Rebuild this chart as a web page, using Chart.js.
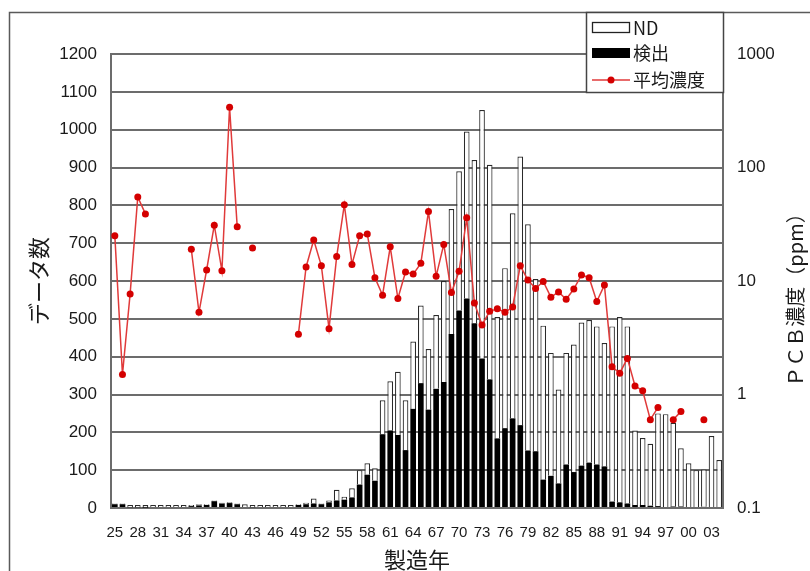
<!DOCTYPE html>
<html><head><meta charset="utf-8">
<script src="https://cdn.jsdelivr.net/npm/chart.js@4/dist/chart.umd.min.js"></script>
<style>html,body{margin:0;padding:0;background:#fff;}#wrap{width:810px;height:571px;position:relative;}</style>
</head><body><div id="wrap"><canvas id="c" width="810" height="571"></canvas></div>
<script>
// Categories: production year (1925-2004), two-digit labels
const years = ['25','26','27','28','29','30','31','32','33','34','35','36','37','38','39','40','41','42','43','44','45','46','47','48','49','50','51','52','53','54','55','56','57','58','59','60','61','62','63','64','65','66','67','68','69','70','71','72','73','74','75','76','77','78','79','80','81','82','83','84','85','86','87','88','89','90','91','92','93','94','95','96','97','98','99','00','01','02','03','04'];

// 検出 (detected) counts
const detected = [10,10,2,2,1,0,0,0,0,0, 5,7,8,18,12,13,10,0,2,0, 0,0,0,0,8,10,12,10,15,20, 22,28,62,88,72,195,205,193,153,262, 330,260,315,333,460,522,554,488,395,340, 184,211,237,219,152,150,75,85,65,115, 95,112,120,115,110,17,15,12,8,8, 6,5,0,4,4,0,0,3,0,0];

// ND (not detected) counts, stacked on top of detected
const notDetected = [2,2,6,6,7,8,8,8,8,8, 3,3,2,2,2,2,2,10,6,8, 8,8,8,8,2,4,13,2,5,28, 8,24,38,30,33,90,130,167,132,178, 205,160,195,267,330,368,441,432,657,567, 321,423,542,710,598,455,407,325,248,295, 337,378,377,365,326,463,490,468,197,177, 164,245,248,221,154,118,100,99,190,127];

// 平均濃度 (mean PCB concentration, ppm), null = no value
const meanConc = [25,1.5,7.7,55,39,null,null,null,null,null, 19,5.3,12.5,31,12.3,340,30,null,19.5,null, null,null,null,null,3.4,13.3,23,13.6,3.8,16.4, 47,14,25,26,10.7,7.5,20,7,12,11.5, 14.3,41,11,21,7.9,12.2,36,6.4,4.1,5.4, 5.7,5.3,5.9,13.6,10.2,8.6,9.9,7.2,8,6.9, 8.5,11.3,10.7,6.6,9.2,1.76,1.54,2.08,1.19,1.08, 0.6,0.77,null,0.6,0.71,null,null,0.6,null,null];

const leftTickStep = 100;
const leftMax = 1200;
const rightTicks = [0.1, 1, 10, 100, 1000];
const rightTickLabels = ['0.1','1','10','100','1000'];
const xLabelEvery = 3;

const seriesLabels = { nd: 'ND', det: '検出', mean: '平均濃度' };
const axisTitles = { x: '製造年', y: 'データ数', y1: 'ＰＣＢ濃度（ppm）' };

const JP = '"Noto Sans CJK JP", "Noto Sans", sans-serif';
const NUM = '"Liberation Sans", Arial, sans-serif';
const GRID = '#6c6c6c';
const TXT = '#1a1a1a';

const decorations = {
  id: 'decorations',
  beforeDraw(chart) {
    const ctx = chart.ctx;
    ctx.save();
    ctx.fillStyle = '#fff';
    ctx.fillRect(0, 0, chart.width, chart.height);
    ctx.restore();
  },
  afterDraw(chart) {
    const ctx = chart.ctx;
    const ca = chart.chartArea;
    ctx.save();
    // outer frame
    ctx.strokeStyle = '#5a5a5a';
    ctx.lineWidth = 1.5;
    ctx.strokeRect(9.5, 12.5, 900, 700);
    // legend box
    const lx = 586, ly = 12, lw = ca.right - 586, lh = 80;
    ctx.fillStyle = '#fff';
    ctx.fillRect(lx, ly, lw, lh);
    ctx.strokeStyle = '#444';
    ctx.lineWidth = 1.5;
    ctx.strokeRect(lx + 0.5, ly + 0.5, lw, lh);
    const ds = chart.data.datasets;
    ctx.font = '18px ' + JP;
    ctx.textBaseline = 'middle';
    ctx.textAlign = 'left';
    // ND
    ctx.fillStyle = '#fff';
    ctx.fillRect(592, 22, 38, 10);
    ctx.strokeStyle = '#222';
    ctx.lineWidth = 1.3;
    ctx.strokeRect(592.5, 22.5, 37, 10);
    ctx.fillStyle = TXT;
    ctx.fillText(ds[1].label, 633, 28);
    // detected
    ctx.fillStyle = '#000';
    ctx.fillRect(592, 48, 38, 10);
    ctx.fillStyle = TXT;
    ctx.fillText(ds[0].label, 633, 53);
    // mean line
    ctx.strokeStyle = '#e03a3a';
    ctx.lineWidth = 1.5;
    ctx.beginPath(); ctx.moveTo(592, 80); ctx.lineTo(630, 80); ctx.stroke();
    ctx.fillStyle = '#d40000';
    ctx.beginPath(); ctx.arc(611, 80, 3.5, 0, Math.PI * 2); ctx.fill();
    ctx.fillStyle = TXT;
    ctx.fillText(ds[2].label, 633, 80);
    // right axis title (reads bottom to top)
    ctx.translate(795, 295);
    ctx.rotate(-Math.PI / 2);
    ctx.font = '20px ' + JP;
    ctx.textAlign = 'center';
    ctx.fillStyle = TXT;
    ctx.fillText(axisTitles.y1, 0, 0);
    ctx.restore();
  }
};

new Chart(document.getElementById('c'), {
  data: {
    labels: years,
    datasets: [
      { type: 'bar', label: seriesLabels.det, data: detected, yAxisID: 'y', order: 1,
        backgroundColor: '#000', borderWidth: 0, barPercentage: 0.74, categoryPercentage: 1 },
      { type: 'bar', label: seriesLabels.nd, data: notDetected, yAxisID: 'y', order: 2,
        backgroundColor: '#fff', borderColor: '#2a2a2a', borderWidth: 1.2, barPercentage: 0.74, categoryPercentage: 1 },
      { type: 'line', label: seriesLabels.mean, data: meanConc, yAxisID: 'y1', order: 0,
        borderColor: '#e03a3a', borderWidth: 1.5, backgroundColor: '#d40000',
        pointBackgroundColor: '#d40000', pointBorderColor: '#d40000', pointRadius: 3.5, pointBorderWidth: 0,
        spanGaps: false, tension: 0 }
    ]
  },
  options: {
    responsive: false, animation: false, devicePixelRatio: 1,
    layout: { padding: { top: 54, left: 0, right: 0, bottom: 0 } },
    plugins: { legend: { display: false }, tooltip: { enabled: false } },
    scales: {
      x: {
        stacked: true, offset: true,
        grid: { display: false, drawTicks: false },
        border: { display: true, color: GRID, width: 2 },
        ticks: { autoSkip: false, maxRotation: 0, minRotation: 0, padding: 16, color: TXT,
          font: { family: NUM, size: 15 },
          callback: (v, i) => (i % xLabelEvery === 0 ? years[i] : '') },
        title: { display: true, text: axisTitles.x, color: TXT, font: { family: JP, size: 22, lineHeight: 1 }, padding: 0 },
        afterFit: s => { s.height = 63; }
      },
      y: {
        stacked: true, position: 'left', min: 0, max: leftMax,
        grid: { color: GRID, lineWidth: 2, drawTicks: false },
        border: { display: true, color: GRID, width: 2 },
        ticks: { stepSize: leftTickStep, padding: 14, color: TXT, font: { family: NUM, size: 17 },
          callback: v => String(v) },
        title: { display: true, text: axisTitles.y, color: TXT, font: { family: JP, size: 22, lineHeight: 1 }, padding: { top: 28, bottom: 0 } },
        afterFit: s => { s.width = 111; }
      },
      y1: {
        type: 'logarithmic', position: 'right', min: 0.1, max: 1000,
        grid: { drawOnChartArea: false, drawTicks: false },
        border: { display: true, color: GRID, width: 2 },
        afterBuildTicks: s => { s.ticks = rightTicks.map(v => ({ value: v })); },
        ticks: { padding: 14, color: TXT, font: { family: NUM, size: 17 },
          callback: v => { const k = rightTicks.indexOf(v); return k >= 0 ? rightTickLabels[k] : ''; } },
        afterFit: s => { s.width = 87; }
      }
    }
  },
  plugins: [decorations]
});
</script>
</body></html>
